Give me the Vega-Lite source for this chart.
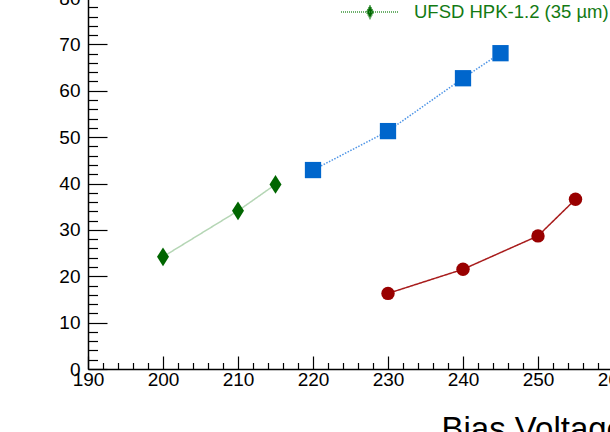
{
  "$schema": "https://vega.github.io/schema/vega-lite/v6.json",
  "autosize": {"type": "none"},
  "width": 525,
  "height": 371,
  "padding": {"left": 88, "top": -2, "right": -3, "bottom": 63},
  "background": "white",
  "data": {
    "values": [
      {"series": "UFSD HPK-1.2 (35 µm)", "voltage": 200, "value": 24.2},
      {"series": "UFSD HPK-1.2 (35 µm)", "voltage": 210, "value": 34.1},
      {"series": "UFSD HPK-1.2 (35 µm)", "voltage": 215, "value": 39.8},
      {"series": "UFSD blue", "voltage": 220, "value": 42.9},
      {"series": "UFSD blue", "voltage": 230, "value": 51.3},
      {"series": "UFSD blue", "voltage": 240, "value": 62.7},
      {"series": "UFSD blue", "voltage": 245, "value": 68.1},
      {"series": "UFSD red", "voltage": 230, "value": 16.3},
      {"series": "UFSD red", "voltage": 240, "value": 21.5},
      {"series": "UFSD red", "voltage": 250, "value": 28.7},
      {"series": "UFSD red", "voltage": 255, "value": 36.6}
    ]
  },
  "encoding": {
    "x": {
      "field": "voltage", "type": "quantitative",
      "scale": {"domain": [190, 260], "nice": false, "zero": false},
      "axis": {
        "values": [190,192,194,196,198,200,202,204,206,208,210,212,214,216,218,220,222,224,226,228,230,232,234,236,238,240,242,244,246,248,250,252,254,256,258,260],
        "labelExpr": "datum.value % 10 === 0 ? datum.label : ''",
        "tickSize": {"condition": {"test": "datum.value % 10 === 0", "value": -13}, "value": -6.5},
        "labelPadding": 14,
        "labelFlush": false,
        "labelOverlap": false,
        "title": "Bias Voltage [V]",
        "titleFontSize": 33,
        "titleFontWeight": "normal",
        "titleAlign": "left",
        "titleBaseline": "alphabetic",
        "titleX": 353,
        "titleY": 70
      }
    },
    "y": {
      "field": "value", "type": "quantitative",
      "scale": {"domain": [0, 80], "nice": false},
      "axis": {
        "values": [0,2,4,6,8,10,12,14,16,18,20,22,24,26,28,30,32,34,36,38,40,42,44,46,48,50,52,54,56,58,60,62,64,66,68,70,72,74,76,78,80],
        "labelExpr": "datum.value % 10 === 0 ? datum.label : ''",
        "tickSize": {"condition": {"test": "datum.value % 10 === 0", "value": -19}, "value": -9.5},
        "labelPadding": 27,
        "labelFlush": false,
        "labelOverlap": false,
        "title": null
      }
    }
  },
  "layer": [
    {
      "mark": {"type": "line", "strokeWidth": 1.5},
      "encoding": {
        "color": {
          "field": "series", "type": "nominal",
          "scale": {"domain": ["UFSD HPK-1.2 (35 µm)", "UFSD blue", "UFSD red"], "range": ["#b5d6b5", "#4d94e6", "#a81c1c"]},
          "legend": null
        },
        "strokeDash": {
          "field": "series", "type": "nominal",
          "scale": {"domain": ["UFSD HPK-1.2 (35 µm)", "UFSD blue", "UFSD red"], "range": [[1, 0], [1.5, 1.5], [1, 0]]},
          "legend": null
        }
      }
    },
    {
      "mark": {"type": "point", "filled": true, "opacity": 1},
      "encoding": {
        "color": {
          "field": "series", "type": "nominal",
          "scale": {"domain": ["UFSD HPK-1.2 (35 µm)", "UFSD blue", "UFSD red"], "range": ["#006600", "#0066cc", "#990000"]},
          "legend": {
            "values": ["UFSD HPK-1.2 (35 µm)"],
            "orient": "none",
            "legendX": 252,
            "legendY": -16,
            "title": null,
            "symbolType": "M-1,0L1,0M0,-0.22L0.12,0L0,0.22L-0.12,0Z",
            "symbolSize": 3364,
            "symbolStrokeColor": "#3c963c",
            "symbolStrokeWidth": 1.5,
            "symbolDash": [1, 1],
            "labelFontSize": 18.5,
            "labelColor": "#137a13",
            "labelOffset": 14,
            "labelLimit": 400
          }
        },
        "shape": {
          "field": "series", "type": "nominal",
          "scale": {"domain": ["UFSD HPK-1.2 (35 µm)", "UFSD blue", "UFSD red"], "range": ["M0,-1L0.64,0L0,1L-0.64,0Z", "square", "circle"]},
          "legend": null
        },
        "size": {
          "field": "series", "type": "nominal",
          "scale": {"domain": ["UFSD HPK-1.2 (35 µm)", "UFSD blue", "UFSD red"], "range": [350, 180, 125]},
          "legend": null
        }
      }
    }
  ],
  "resolve": {"scale": {"color": "independent"}},
  "config": {
    "font": "Liberation Sans",
    "view": {"stroke": null},
    "axis": {
      "domainColor": "black",
      "domainWidth": 1.5,
      "tickColor": "black",
      "tickWidth": 1.2,
      "labelColor": "black",
      "labelFontSize": 19,
      "labelFont": "Liberation Sans",
      "titleColor": "black",
      "titleFont": "Liberation Sans",
      "grid": false
    },
    "legend": {"labelFont": "Liberation Sans"}
  }
}
